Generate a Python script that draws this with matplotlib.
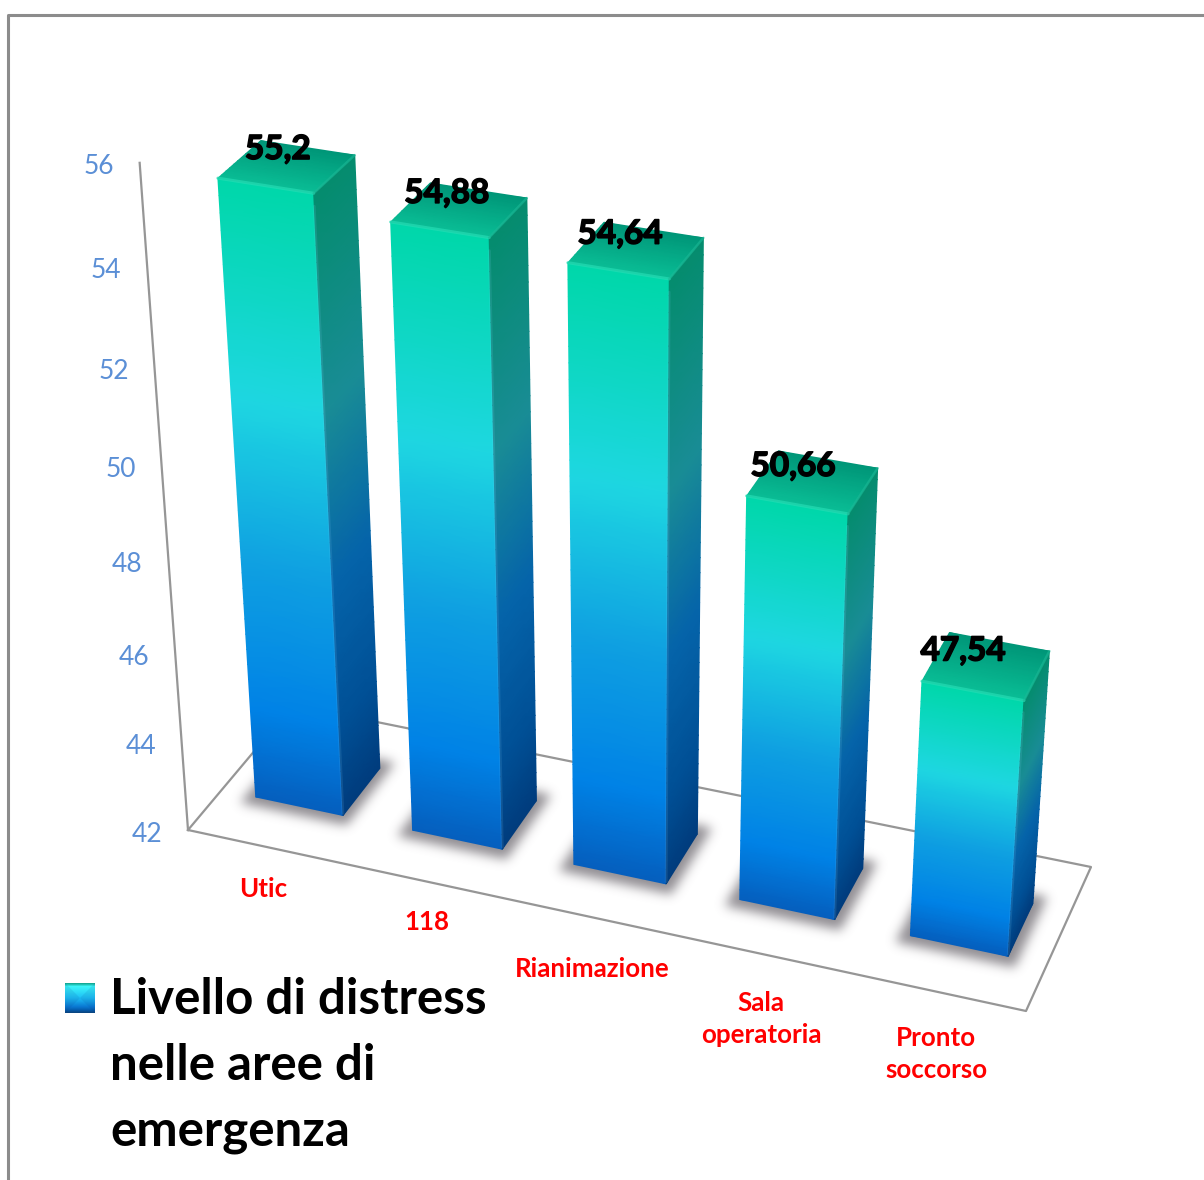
import numpy as np
from matplotlib import pyplot as plt
from matplotlib import patheffects
from matplotlib.colors import LinearSegmentedColormap
from matplotlib.patches import Polygon
from matplotlib.path import Path

categories = ['Utic', '118', 'Rianimazione', 'Sala\noperatoria', 'Pronto\nsoccorso']
values = [55.2, 54.88, 54.64, 50.66, 47.54]
tick_values = [42, 44, 46, 48, 50, 52, 54, 56]
legend_lines = ['Livello di distress', 'nelle aree di', 'emergenza']

# pixel centre of each category label
label_pos = [(263, 889), (427, 922), (592, 969), (761, 1019), (936, 1054)]

BASE = 42
TOP = 56
N = len(categories)
W, H_PX = 1204, 1180
GREY = '#969696'
FONT = 'Lato'


def rgb(*c):
    return tuple(x / 255 for x in c)


front_cmap = LinearSegmentedColormap.from_list('front', [
    (0, rgb(0, 215, 170)), (.33, rgb(30, 215, 225)), (.6, rgb(15, 160, 225)),
    (.85, rgb(0, 130, 230)), (1, rgb(5, 95, 190))])
side_cmap = LinearSegmentedColormap.from_list('side', [
    (0, rgb(5, 140, 110)), (.33, rgb(25, 140, 150)), (.6, rgb(5, 100, 170)),
    (.85, rgb(0, 80, 150)), (1, rgb(0, 60, 125))])
top_cmap = LinearSegmentedColormap.from_list('top', [rgb(0, 150, 120), rgb(10, 190, 150)])
key_cmap = LinearSegmentedColormap.from_list('key', [
    (0, rgb(20, 170, 150)), (.1, rgb(60, 245, 250)), (.5, rgb(30, 190, 245)),
    (.8, rgb(10, 120, 210)), (.92, rgb(5, 90, 170)), (1, rgb(10, 70, 130))])


def floor_matrix():
    # floor plane (u, d) to picture, from the four corners of the floor
    src = [(0, 0), (N, 0), (N, 1), (0, 1)]
    dst = [(188, 830), (1026, 1011), (1091, 867), (293, 705)]
    a = []
    b = []
    for (u, d), (x, y) in zip(src, dst):
        a.append([u, d, 1, 0, 0, 0, -u * x, -d * x])
        a.append([0, 0, 0, u, d, 1, -u * y, -d * y])
        b += [x, y]
    h = np.linalg.solve(np.array(a, float), np.array(b, float))
    return np.append(h, 1).reshape(3, 3)


H = floor_matrix()
VERT = -0.00697 * np.array([635, 7000, 1])


def project(u, d, v):
    p = H @ np.array([u, d, 1.0]) + (v - BASE) * VERT
    return p[0] / p[2], p[1] / p[2]


def face(ax, corners, value, cmap):
    # corners: two floor points, gradient runs from value down to the floor
    levels = np.linspace(value, BASE, 40)
    xs = np.zeros((len(levels), 2))
    ys = np.zeros((len(levels), 2))
    for row, v in enumerate(levels):
        for col, (u, d) in enumerate(corners):
            xs[row, col], ys[row, col] = project(u, d, v)
    frac = np.repeat(np.linspace(0, 1, len(levels))[:, None], 2, axis=1)
    ax.pcolormesh(xs, ys, frac, cmap=cmap, vmin=0, vmax=1, shading='gouraud', zorder=4)


def top_face(ax, u0, u1, d0, d1, value):
    levels = np.linspace(d1, d0, 12)
    xs = np.zeros((len(levels), 2))
    ys = np.zeros((len(levels), 2))
    for row, d in enumerate(levels):
        xs[row, 0], ys[row, 0] = project(u0, d, value)
        xs[row, 1], ys[row, 1] = project(u1, d, value)
    frac = np.repeat(np.linspace(0, 1, len(levels))[:, None], 2, axis=1)
    ax.pcolormesh(xs, ys, frac, cmap=top_cmap, vmin=0, vmax=1, shading='gouraud', zorder=4)


def edge(ax, p, q, color, alpha, lw):
    ax.plot([p[0], q[0]], [p[1], q[1]], color=color, alpha=alpha, lw=lw, zorder=5, solid_capstyle='round')


def blur(img, sigma):
    r = int(3 * sigma)
    k = np.exp(-.5 * (np.arange(-r, r + 1) / sigma) ** 2)
    k = k / k.sum()
    img = np.apply_along_axis(lambda c: np.convolve(c, k, mode='same'), 0, img)
    return np.apply_along_axis(lambda c: np.convolve(c, k, mode='same'), 1, img)


def shadow_layer(ax, bars):
    gx, gy = np.meshgrid(np.arange(W) + .5, np.arange(H_PX) + .5)
    grid = np.column_stack([gx.ravel(), gy.ravel()])
    mask = np.zeros(len(grid))
    for u0, u1, d0, d1 in bars:
        pts = [project(u0 - .06, d0 - .06, BASE), project(u1 + .06, d0 - .06, BASE),
               project(u1 + .06, d1 + .06, BASE), project(u0 - .06, d1 + .06, BASE)]
        mask[Path(pts).contains_points(grid)] = 1
    alpha = blur(mask.reshape(H_PX, W), 5.5) * .65
    img = np.zeros((H_PX, W, 4))
    img[..., :3] = rgb(85, 80, 88)
    img[..., 3] = alpha
    ax.imshow(img, extent=(0, W, H_PX, 0), aspect='auto', zorder=2, interpolation='nearest')


fig = plt.figure(figsize=(12.04, 11.8), dpi=100)
ax = fig.add_axes([0, 0, 1, 1])
ax.axis('off')

# outer frame, only top and left are visible
ax.plot([8, 8, W], [H_PX, 15, 15], color='#8c8c8c', lw=2.2, zorder=1)

# floor and value axis
floor = [project(0, 0, BASE), project(N, 0, BASE), project(N, 1, BASE), project(0, 1, BASE), project(0, 0, BASE)]
ax.plot([p[0] for p in floor], [p[1] for p in floor], color=GREY, lw=1.6, zorder=1)
axis_pts = [project(0, 0, BASE), project(0, 0, TOP)]
ax.plot([p[0] for p in axis_pts], [p[1] for p in axis_pts], color=GREY, lw=1.6, zorder=1)

for t in tick_values:
    x, y = project(0, 0, t)
    ax.text(x - 41, y + 4, str(t), color='#5b8fd6', fontsize=19, family=FONT, ha='center', va='center')

D0, D1 = .31, .68
bars = [(i + .22, i + .78, D0, D1) for i in range(N)]
shadow_layer(ax, bars)

bold_fx = [patheffects.withStroke(linewidth=1.1, foreground='black')]
for i, v in enumerate(values):
    u0, u1, d0, d1 = bars[i]
    face(ax, [(u0, d0), (u1, d0)], v, front_cmap)
    face(ax, [(u1, d0), (u1, d1)], v, side_cmap)
    top_face(ax, u0, u1, d0, d1, v)
    # soft bevel along the top edges
    edge(ax, project(u0, d0, v), project(u1, d0, v), '#25dcb4', .7, 2.2)
    edge(ax, project(u1, d0, v), project(u1, d1, v), '#1cb896', .6, 1.8)
    edge(ax, project(u1, d0, v - .25), project(u1, d0, BASE + .05), '#8fd8ff', .12, 2)
    x, y = project(i + .5, (d0 + d1) / 2, v)
    ax.text(x - 9 - 3.5 * i, y - 17 + .5 * i, str(v).replace('.', ','), color='black', fontsize=24, weight='bold',
            family=FONT, ha='center', va='center', zorder=6, path_effects=bold_fx)

for name, (x, y) in zip(categories, label_pos):
    ax.text(x, y, name, color='#ff0000', fontsize=18.6, weight='bold', family=FONT,
            ha='center', va='center', linespacing=1.42)

# legend
key = np.linspace(0, 1, 30)[:, None]
ax.imshow(key, cmap=key_cmap, extent=(65, 95, 1013, 983), aspect='auto', vmin=0, vmax=1, zorder=3)
ax.add_patch(Polygon([(65, 983), (80, 998), (65, 1013)], fc='#0a3c82', ec='none', alpha=.1, zorder=3))
ax.add_patch(Polygon([(95, 983), (80, 998), (95, 1013)], fc='#0a3c82', ec='none', alpha=.1, zorder=3))
for line, y in zip(legend_lines, [1000, 1065, 1131]):
    ax.text(110, y, line, color='black', fontsize=35.5, weight='bold', family=FONT, ha='left', va='center')

ax.set_xlim(0, W)
ax.set_ylim(H_PX, 0)

plt.savefig('out.png', dpi=100)
plt.close()
